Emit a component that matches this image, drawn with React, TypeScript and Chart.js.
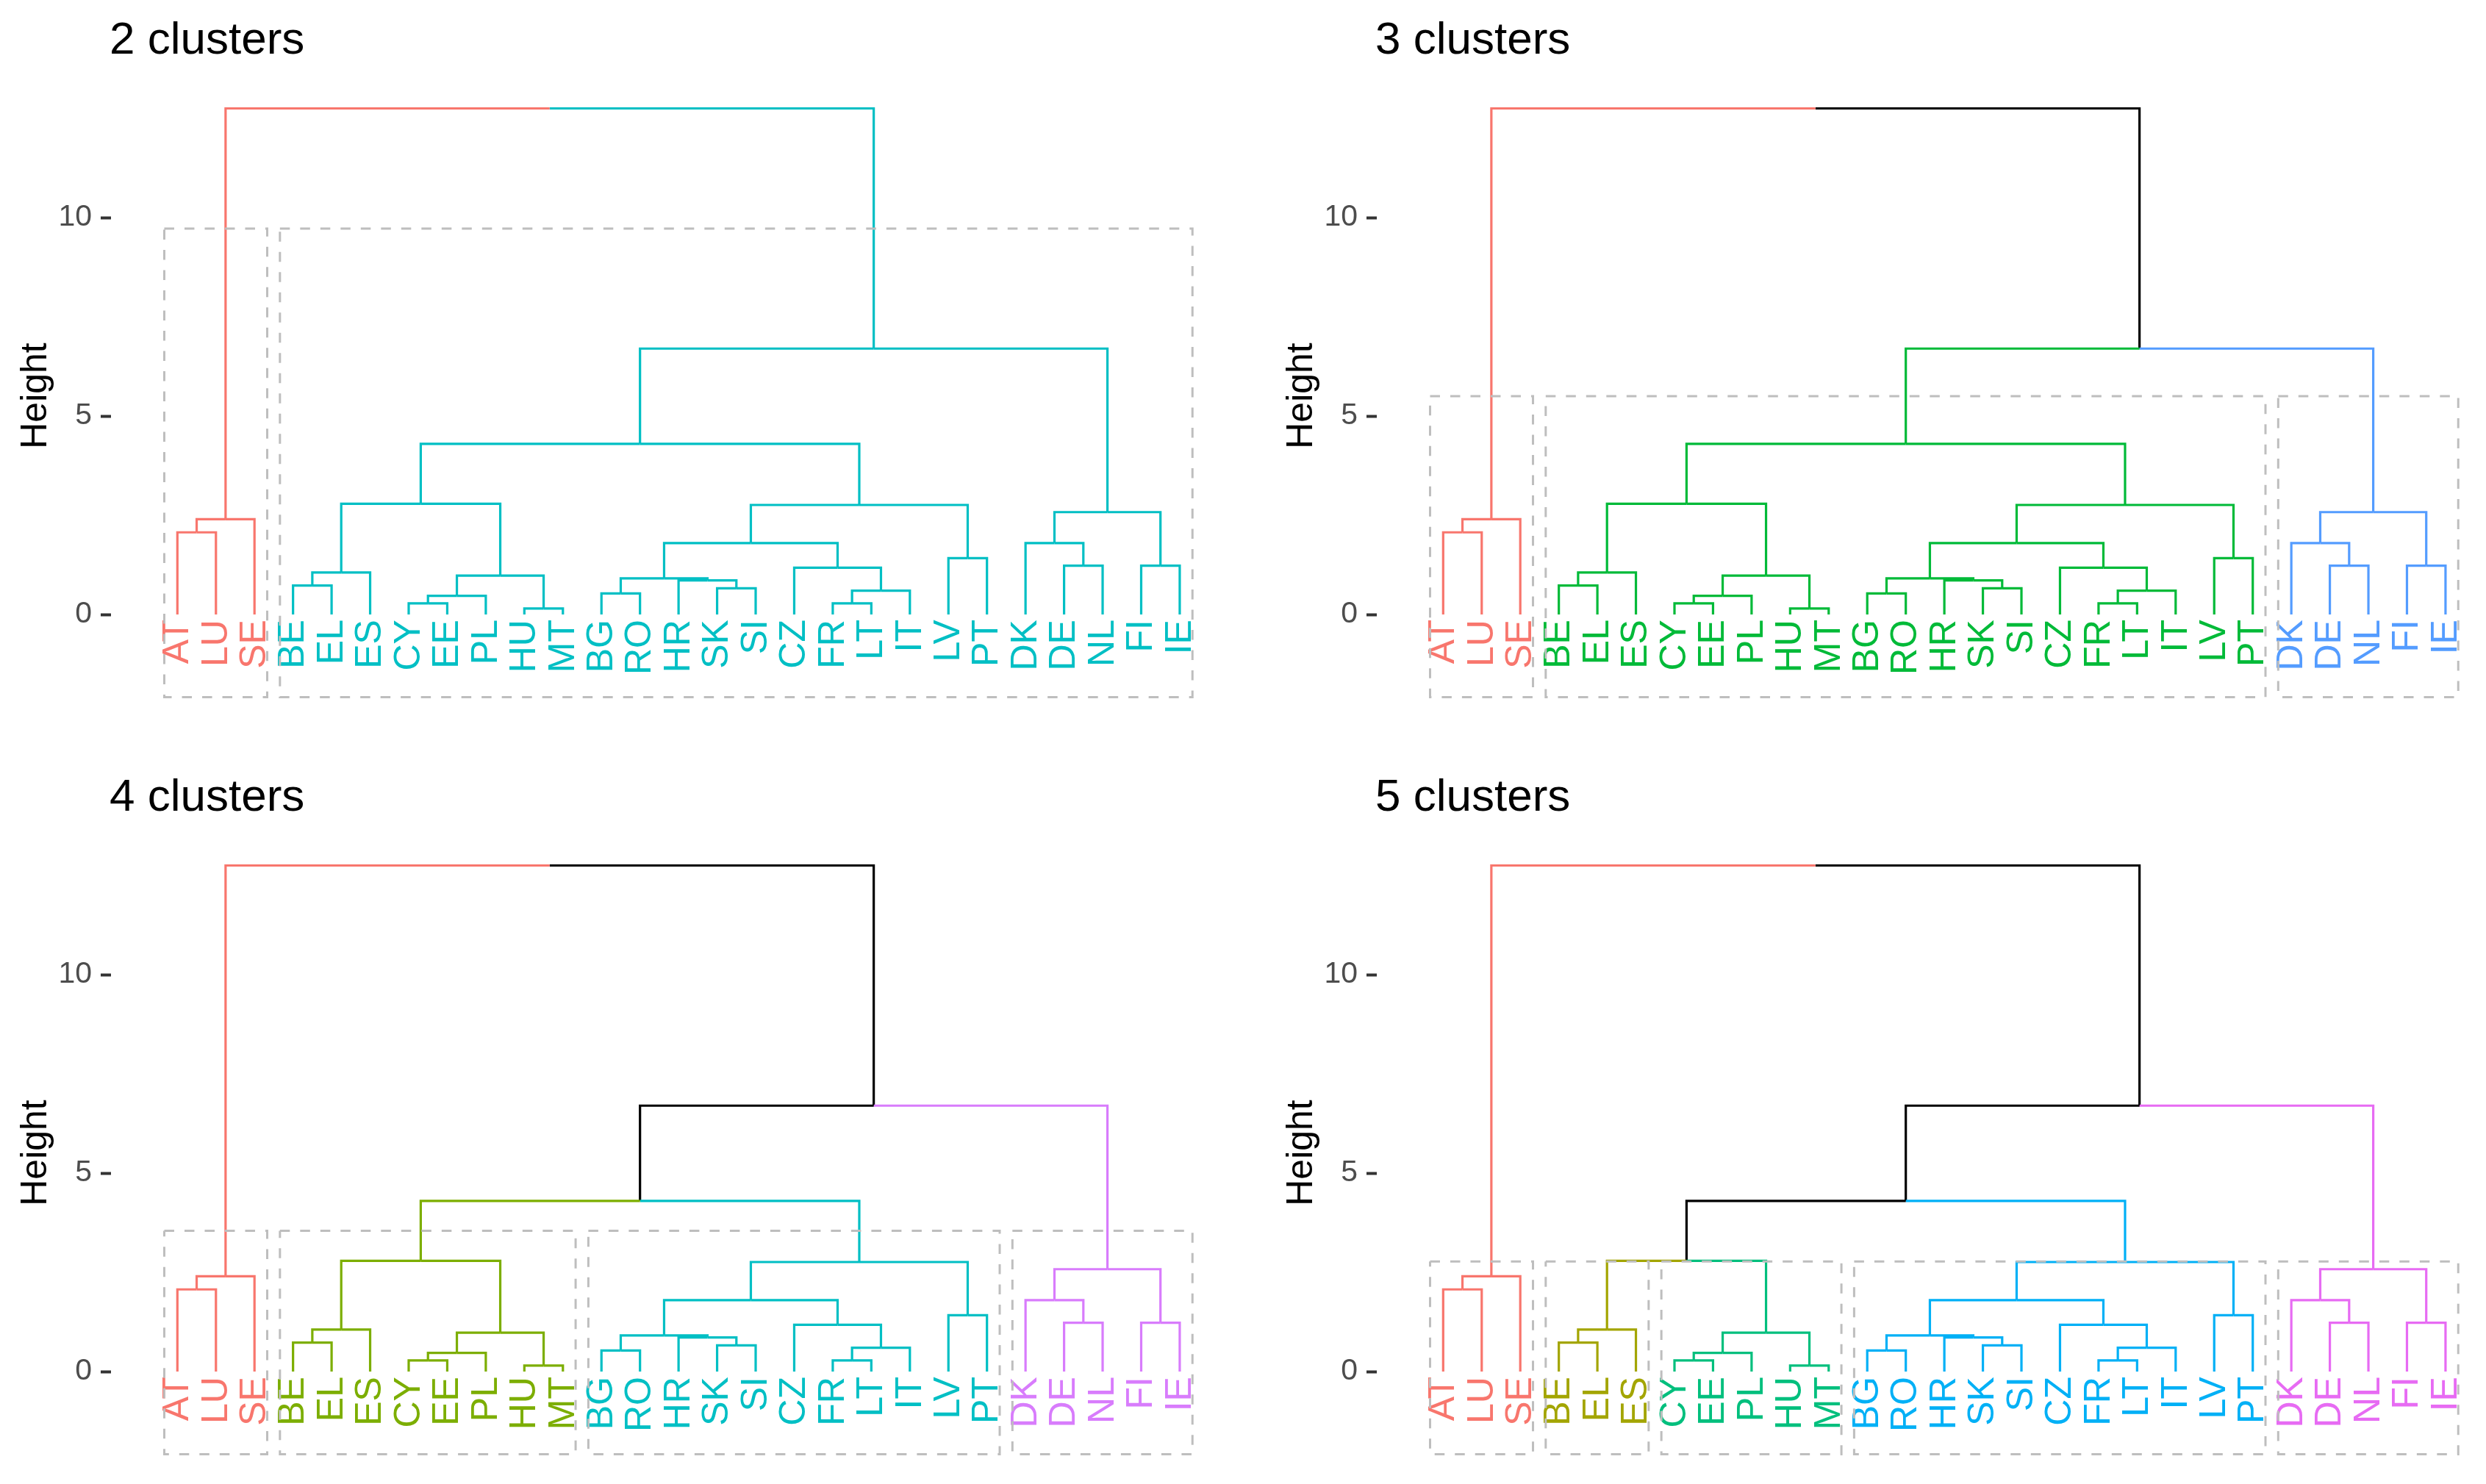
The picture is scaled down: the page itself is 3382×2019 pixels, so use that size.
import React, { useEffect, useRef } from 'react';
import { Chart, registerables } from 'chart.js';

Chart.register(...registerables);

const FONT = '"Liberation Sans", Arial, Helvetica, sans-serif';

// Leaves in dendrogram display order
const LEAVES = ['AT', 'LU', 'SE', 'BE', 'EL', 'ES', 'CY', 'EE', 'PL', 'HU', 'MT', 'BG', 'RO', 'HR', 'SK', 'SI', 'CZ', 'FR', 'LT', 'IT', 'LV', 'PT', 'DK', 'DE', 'NL', 'FI', 'IE'];

// hclust-style merge table: negative = leaf (1-based position in LEAVES), positive = earlier merge (1-based)
const MERGE: [number, number][] = [
  [-10, -11], // 1  HU-MT
  [-7, -8],   // 2  CY-EE
  [-18, -19], // 3  FR-LT
  [2, -9],    // 4  (CY,EE)-PL
  [-12, -13], // 5  BG-RO
  [3, -20],   // 6  (FR,LT)-IT
  [-15, -16], // 7  SK-SI
  [-4, -5],   // 8  BE-EL
  [-14, 7],   // 9  HR-(SK,SI)
  [5, 9],     // 10
  [4, 1],     // 11
  [8, -6],    // 12
  [-17, 6],   // 13
  [-24, -25], // 14 DE-NL
  [-26, -27], // 15 FI-IE
  [-21, -22], // 16 LV-PT
  [10, 13],   // 17
  [-23, 14],  // 18
  [-1, -2],   // 19 AT-LU
  [19, -3],   // 20
  [18, 15],   // 21
  [17, 16],   // 22
  [12, 11],   // 23
  [23, 22],   // 24
  [24, 21],   // 25
  [20, 25],   // 26 root
];
const HEIGHT = [0.15, 0.28, 0.28, 0.47, 0.53, 0.60, 0.66, 0.73, 0.86, 0.91, 0.98, 1.06, 1.18, 1.23, 1.23, 1.42, 1.80, 1.80, 2.07, 2.40, 2.58, 2.76, 2.79, 4.30, 6.70, 12.75];

const CLUSTERS_2 = [1, 1, 1, 2, 2, 2, 2, 2, 2, 2, 2, 2, 2, 2, 2, 2, 2, 2, 2, 2, 2, 2, 2, 2, 2, 2, 2];
const CLUSTERS_3 = [1, 1, 1, 2, 2, 2, 2, 2, 2, 2, 2, 2, 2, 2, 2, 2, 2, 2, 2, 2, 2, 2, 3, 3, 3, 3, 3];
const CLUSTERS_4 = [1, 1, 1, 2, 2, 2, 2, 2, 2, 2, 2, 3, 3, 3, 3, 3, 3, 3, 3, 3, 3, 3, 4, 4, 4, 4, 4];
const CLUSTERS_5 = [1, 1, 1, 2, 2, 2, 3, 3, 3, 3, 3, 4, 4, 4, 4, 4, 4, 4, 4, 4, 4, 4, 5, 5, 5, 5, 5];

const COLORS_2 = ['#F8766D', '#00BFC4'];
const COLORS_3 = ['#F8766D', '#00BA38', '#549CFF'];
const COLORS_4 = ['#F8766D', '#7CAE00', '#00BFC4', '#D87CFC'];
const COLORS_5 = ['#F8766D', '#A3A500', '#00BF7D', '#00B0F6', '#E76BF3'];

const TITLES = ['2 clusters', '3 clusters', '4 clusters', '5 clusters'];
const Y_TICKS = [0, 5, 10];
const RECT_BOTTOM = -2.08;

type PanelSpec = { title: string; clusters: number[]; colors: string[]; left: number; top: number };

const PANELS: PanelSpec[] = [
  { title: TITLES[0], clusters: CLUSTERS_2, colors: COLORS_2, left: 0, top: 0 },
  { title: TITLES[1], clusters: CLUSTERS_3, colors: COLORS_3, left: 1722, top: 0 },
  { title: TITLES[2], clusters: CLUSTERS_4, colors: COLORS_4, left: 0, top: 1030 },
  { title: TITLES[3], clusters: CLUSTERS_5, colors: COLORS_5, left: 1722, top: 1030 },
];

const PANEL_W = 1660;
const PANEL_H = 1020;
const PAD_TOP = 100;
const PAD_BOTTOM = 43; // chart area: 100 .. 977
const AXIS_W = 151;
const X_MIN = -0.722;
const X_MAX = 28.05;
const Y_MIN = -2.61;
const Y_MAX = 13.63;

type Pt = { x: number; y: number };

function buildDendro(clusters: number[], colors: string[]) {
  const nodeX: number[] = [];
  const nodeMembers: number[][] = [];
  const xOf = (c: number) => (c < 0 ? -c : nodeX[c - 1]);
  const hOf = (c: number) => (c < 0 ? 0 : HEIGHT[c - 1]);
  const membersOf = (c: number) => (c < 0 ? [-c] : nodeMembers[c - 1]);
  const colorOf = (c: number) => {
    const ms = membersOf(c);
    const k = clusters[ms[0] - 1];
    return ms.every((m) => clusters[m - 1] === k) ? colors[k - 1] : '#000000';
  };
  const segments: { points: Pt[]; color: string }[] = [];
  MERGE.forEach(([a, b], i) => {
    const h = HEIGHT[i];
    const xa = xOf(a);
    const xb = xOf(b);
    const xm = (xa + xb) / 2;
    segments.push({ points: [{ x: xa, y: hOf(a) }, { x: xa, y: h }, { x: xm, y: h }], color: colorOf(a) });
    segments.push({ points: [{ x: xb, y: hOf(b) }, { x: xb, y: h }, { x: xm, y: h }], color: colorOf(b) });
    nodeX.push(xm);
    nodeMembers.push([...membersOf(a), ...membersOf(b)]);
  });

  const k = Math.max(...clusters);
  const n = HEIGHT.length;
  const cut = (HEIGHT[n - k] + HEIGHT[n - k + 1]) / 2;
  const rects: Pt[][] = [];
  let start = 0;
  for (let i = 1; i <= clusters.length; i++) {
    if (i === clusters.length || clusters[i] !== clusters[start]) {
      const x1 = start + 1 - 0.34;
      const x2 = i + 0.33;
      rects.push([
        { x: x1, y: cut },
        { x: x2, y: cut },
        { x: x2, y: RECT_BOTTOM },
        { x: x1, y: RECT_BOTTOM },
        { x: x1, y: cut },
      ]);
      start = i;
    }
  }
  return { segments, rects };
}

function Panel({ spec }: { spec: PanelSpec }) {
  const ref = useRef<HTMLCanvasElement | null>(null);

  useEffect(() => {
    if (!ref.current) return;
    const { segments, rects } = buildDendro(spec.clusters, spec.colors);

    const datasets: any[] = [
      ...rects.map((r) => ({
        data: r,
        showLine: true,
        borderColor: '#BEBEBE',
        borderWidth: 3,
        borderDash: [13.5, 14],
        pointRadius: 0,
        pointHoverRadius: 0,
        fill: false,
        tension: 0,
        order: 0,
      })),
      ...segments.map((s) => ({
        data: s.points,
        showLine: true,
        borderColor: s.color,
        borderWidth: 3.2,
        borderJoinStyle: 'miter',
        pointRadius: 0,
        pointHoverRadius: 0,
        fill: false,
        tension: 0,
        order: 1,
      })),
    ];

    const textPlugin = {
      id: 'dendroText',
      beforeDatasetsDraw(chart: any) {
        const { ctx, scales } = chart;
        const y0 = scales.y.getPixelForValue(0);
        ctx.save();
        ctx.font = `50px ${FONT}`;
        ctx.textAlign = 'right';
        ctx.textBaseline = 'middle';
        LEAVES.forEach((lab, i) => {
          const px = scales.x.getPixelForValue(i + 1);
          ctx.save();
          ctx.translate(px + 1, y0 + 7);
          ctx.rotate(-Math.PI / 2);
          ctx.fillStyle = spec.colors[spec.clusters[i] - 1];
          ctx.fillText(lab, 0, 0);
          ctx.restore();
        });
        ctx.restore();
      },
      afterDraw(chart: any) {
        const { ctx, chartArea } = chart;
        ctx.save();
        ctx.font = `62px ${FONT}`;
        ctx.fillStyle = '#000000';
        ctx.textAlign = 'left';
        ctx.textBaseline = 'alphabetic';
        ctx.fillText(spec.title, chartArea.left - 2, 73);
        ctx.restore();
      },
    };

    const chart = new Chart(ref.current, {
      type: 'scatter',
      data: { datasets },
      options: {
        animation: false,
        responsive: true,
        maintainAspectRatio: false,
        events: [],
        layout: { padding: { top: PAD_TOP, bottom: PAD_BOTTOM, left: 0, right: 0 } },
        plugins: {
          legend: { display: false },
          tooltip: { enabled: false },
          title: { display: false },
        },
        scales: {
          x: { type: 'linear', min: X_MIN, max: X_MAX, display: false },
          y: {
            type: 'linear',
            position: 'left',
            min: Y_MIN,
            max: Y_MAX,
            afterFit: (scale: any) => {
              scale.width = AXIS_W;
            },
            afterBuildTicks: (scale: any) => {
              scale.ticks = Y_TICKS.map((v) => ({ value: v }));
            },
            ticks: {
              font: { family: FONT, size: 41 },
              color: '#4D4D4D',
              padding: 12,
            },
            grid: {
              display: true,
              drawOnChartArea: false,
              drawTicks: true,
              tickLength: 14,
              tickColor: '#333333',
              tickWidth: 4,
            },
            border: { display: false },
            title: {
              display: true,
              text: 'Height',
              color: '#000000',
              font: { family: FONT, size: 50 },
              padding: { top: 19, bottom: 0 },
            },
          },
        },
      } as any,
      plugins: [textPlugin],
    });

    return () => {
      chart.destroy();
    };
  }, [spec]);

  return (
    <div style={{ position: 'absolute', left: spec.left, top: spec.top, width: PANEL_W, height: PANEL_H }}>
      <canvas ref={ref} />
    </div>
  );
}

export default function App() {
  return (
    <div
      style={{
        position: 'fixed',
        left: 0,
        top: 0,
        width: 3382,
        height: 2019,
        background: '#ffffff',
        overflow: 'hidden',
      }}
    >
      {PANELS.map((p) => (
        <Panel key={p.title} spec={p} />
      ))}
    </div>
  );
}
